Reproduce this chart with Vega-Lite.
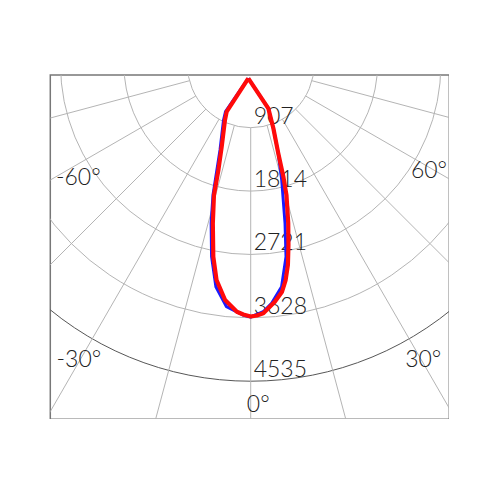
{
  "$schema": "https://vega.github.io/schema/vega-lite/v6.json",
  "autosize": {"type": "none"},
  "padding": {"left": 50.3, "top": 75, "right": 0, "bottom": 0},
  "width": 399,
  "height": 344.3,
  "background": "white",
  "config": {"view": {"stroke": "#777777", "strokeWidth": 1.5}},
  "datasets": {
    "rings": [
      {"I": 907, "outer": "no"},
      {"I": 1814, "outer": "no"},
      {"I": 2721, "outer": "no"},
      {"I": 3628, "outer": "no"},
      {"I": 4535, "outer": "yes"}
    ],
    "spokes": [
      {"a": -90}, {"a": -75}, {"a": -60}, {"a": -45}, {"a": -30}, {"a": -15},
      {"a": 0}, {"a": 15}, {"a": 30}, {"a": 45}, {"a": 60}, {"a": 75}, {"a": 90}
    ],
    "angleLabels": [
      {"t": "0°", "a": 1.25, "R": 4973},
      {"t": "30°", "a": 29.7, "R": 4983},
      {"t": "-30°", "a": -29.6, "R": 4977},
      {"t": "60°", "a": 57.4, "R": 3028},
      {"t": "-60°", "a": -55.0, "R": 3012}
    ],
    "curves": [
      {"s": "blue", "i": 0, "a": -9.7, "I": 203},
      {"s": "blue", "i": 1, "a": -28, "I": 768},
      {"s": "blue", "i": 2, "a": -26, "I": 887},
      {"s": "blue", "i": 3, "a": -19.7, "I": 1303},
      {"s": "blue", "i": 4, "a": -16.1, "I": 1946},
      {"s": "blue", "i": 5, "a": -14.0, "I": 2341},
      {"s": "blue", "i": 6, "a": -11.5, "I": 2809},
      {"s": "blue", "i": 7, "a": -8.9, "I": 3221},
      {"s": "blue", "i": 8, "a": -5.7, "I": 3486},
      {"s": "blue", "i": 9, "a": -1.8, "I": 3589},
      {"s": "blue", "i": 10, "a": 0, "I": 3616},
      {"s": "blue", "i": 11, "a": 2.9, "I": 3545},
      {"s": "blue", "i": 12, "a": 5.0, "I": 3433},
      {"s": "blue", "i": 13, "a": 7.9, "I": 3213},
      {"s": "blue", "i": 14, "a": 10.4, "I": 2799},
      {"s": "blue", "i": 15, "a": 12.2, "I": 2324},
      {"s": "blue", "i": 16, "a": 15.0, "I": 1714},
      {"s": "blue", "i": 17, "a": 17.2, "I": 1333},
      {"s": "blue", "i": 18, "a": 19.5, "I": 971},
      {"s": "blue", "i": 19, "a": 21.8, "I": 678},
      {"s": "blue", "i": 20, "a": -9.7, "I": 203},
      {"s": "red", "i": 0, "a": -9.7, "I": 203},
      {"s": "red", "i": 1, "a": -26.9, "I": 760},
      {"s": "red", "i": 2, "a": -24.8, "I": 878},
      {"s": "red", "i": 3, "a": -19.4, "I": 1250},
      {"s": "red", "i": 4, "a": -17.0, "I": 1582},
      {"s": "red", "i": 5, "a": -15.7, "I": 1943},
      {"s": "red", "i": 6, "a": -13.4, "I": 2339},
      {"s": "red", "i": 7, "a": -11.0, "I": 2805},
      {"s": "red", "i": 8, "a": -9.0, "I": 3125},
      {"s": "red", "i": 9, "a": -6.2, "I": 3393},
      {"s": "red", "i": 10, "a": -3.2, "I": 3546},
      {"s": "red", "i": 11, "a": -1.7, "I": 3582},
      {"s": "red", "i": 12, "a": 0, "I": 3609},
      {"s": "red", "i": 13, "a": 1.4, "I": 3595},
      {"s": "red", "i": 14, "a": 2.9, "I": 3568},
      {"s": "red", "i": 15, "a": 5.8, "I": 3415},
      {"s": "red", "i": 16, "a": 7.8, "I": 3289},
      {"s": "red", "i": 17, "a": 9.2, "I": 3127},
      {"s": "red", "i": 18, "a": 10.5, "I": 2921},
      {"s": "red", "i": 19, "a": 11.8, "I": 2642},
      {"s": "red", "i": 20, "a": 13.3, "I": 2334},
      {"s": "red", "i": 21, "a": 15.3, "I": 1939},
      {"s": "red", "i": 22, "a": 16.2, "I": 1675},
      {"s": "red", "i": 23, "a": 17.2, "I": 1333},
      {"s": "red", "i": 24, "a": 19.5, "I": 971},
      {"s": "red", "i": 25, "a": 21.8, "I": 678},
      {"s": "red", "i": 26, "a": -9.7, "I": 203}
    ]
  },
  "layer": [
    {
      "data": {"name": "rings"},
      "mark": {"type": "arc", "filled": false, "clip": true, "theta": 0, "theta2": 6.2832, "strokeWidth": 1},
      "encoding": {
        "x": {"datum": 0, "type": "quantitative", "scale": {"domain": [-2868, 2842], "nice": false, "zero": false}, "axis": null},
        "y": {"datum": 0, "type": "quantitative", "scale": {"domain": [153, 5080], "reverse": true, "nice": false, "zero": false}, "axis": null},
        "radius": {"field": "I", "type": "quantitative", "stack": null, "scale": {"type": "linear", "domain": [0, 907], "range": [0, 63.38], "zero": true}},
        "stroke": {"field": "outer", "type": "nominal", "scale": {"domain": ["no", "yes"], "range": ["#b4b4b4", "#555555"]}, "legend": null}
      }
    },
    {
      "data": {"name": "spokes"},
      "transform": [
        {"calculate": "907*sin(datum.a*PI/180)", "as": "x1"},
        {"calculate": "907*cos(datum.a*PI/180)", "as": "y1"},
        {"calculate": "9000*sin(datum.a*PI/180)", "as": "x2"},
        {"calculate": "9000*cos(datum.a*PI/180)", "as": "y2"}
      ],
      "mark": {"type": "rule", "clip": true, "color": "#b4b4b4", "strokeWidth": 1},
      "encoding": {
        "x": {"field": "x1", "type": "quantitative"},
        "y": {"field": "y1", "type": "quantitative"},
        "x2": {"field": "x2"},
        "y2": {"field": "y2"}
      }
    },
    {
      "data": {"name": "rings"},
      "mark": {"type": "text", "align": "left", "baseline": "alphabetic", "dx": 3, "dy": -4, "font": "Lato", "fontWeight": 300, "fontSize": 23, "color": "#222222"},
      "encoding": {
        "x": {"datum": 0, "type": "quantitative"},
        "y": {"field": "I", "type": "quantitative"},
        "text": {"field": "I", "type": "nominal"}
      }
    },
    {
      "data": {"name": "angleLabels"},
      "transform": [
        {"calculate": "datum.R*sin(datum.a*PI/180)", "as": "x"},
        {"calculate": "datum.R*cos(datum.a*PI/180)", "as": "y"}
      ],
      "mark": {"type": "text", "align": "center", "baseline": "alphabetic", "font": "Lato", "fontWeight": 300, "fontSize": 23, "color": "#222222"},
      "encoding": {
        "x": {"field": "x", "type": "quantitative"},
        "y": {"field": "y", "type": "quantitative"},
        "text": {"field": "t", "type": "nominal"}
      }
    },
    {
      "data": {"name": "curves"},
      "transform": [
        {"calculate": "datum.I*sin(datum.a*PI/180)", "as": "x"},
        {"calculate": "datum.I*cos(datum.a*PI/180)", "as": "y"}
      ],
      "mark": {"type": "line", "clip": true, "strokeJoin": "round"},
      "encoding": {
        "x": {"field": "x", "type": "quantitative"},
        "y": {"field": "y", "type": "quantitative"},
        "order": {"field": "i", "type": "quantitative"},
        "detail": {"field": "s", "type": "nominal"},
        "color": {"field": "s", "type": "nominal", "scale": {"domain": ["blue", "red"], "range": ["#1a1aff", "#ff0a0a"]}, "legend": null},
        "strokeWidth": {"field": "s", "type": "nominal", "scale": {"domain": ["blue", "red"], "range": [3, 4.2]}, "legend": null}
      }
    }
  ]
}
